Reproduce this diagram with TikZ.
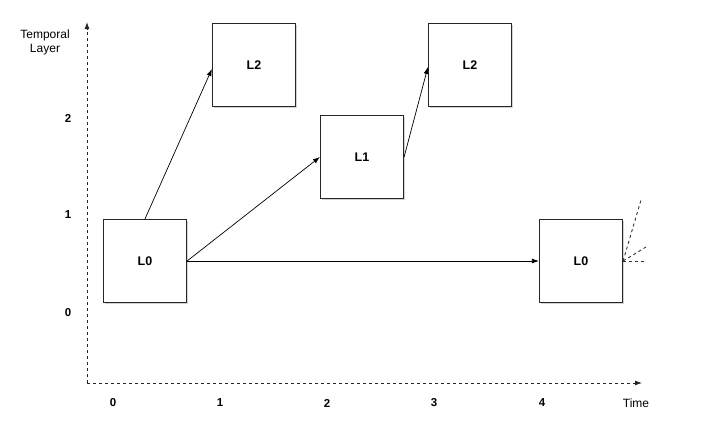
\documentclass[tikz,border=0pt]{standalone}
\usepackage{fontspec}
\setmainfont{Liberation Sans}
\usetikzlibrary{calc, arrows.meta, positioning, shadows}

\begin{document}
\begin{tikzpicture}[
    x=1pt, y=-1pt,
    frame/.style={rectangle, draw=black!85, fill=white, line width=1.2pt, minimum width=83pt, minimum height=83pt, font=\bfseries\fontsize{12.5}{14}\selectfont, drop shadow={shadow xshift=1pt, shadow yshift=-1.5pt, opacity=0.35}},
    axis/.style={-{Latex[length=7pt, width=5pt]}, dashed, line width=0.9pt, black!85},
    arrow/.style={-{Latex[length=7pt, width=5pt]}, line width=0.7pt, black},
    future/.style={dashed, line width=0.9pt, black!80},
    ticklabel/.style={font=\bfseries\fontsize{11.5}{13}\selectfont},
    axislabel/.style={font=\fontsize{12}{14}\selectfont}
]
    \useasboundingbox (0,0) rectangle (703,431);

    % Axes
    \coordinate (origin) at (87,383);
    \coordinate (ytop) at (87,22);
    \coordinate (xend) at (642,383);
    \draw[axis] (origin) -- (ytop);
    \draw[axis] (origin) -- (xend);

    % Axis labels
    \node[axislabel, align=center] (ylabel) at (45,42) {Temporal\\Layer};
    \node[ticklabel] (y0) at (68,313) {0};
    \node[ticklabel] (y1) at (68,215) {1};
    \node[ticklabel] (y2) at (68,118) {2};
    \foreach \t/\xpos in {0/113, 1/220, 2/327, 3/434, 4/542} {
        \node[ticklabel] (x\t) at (\xpos,403) {\t};
    }
    \node[axislabel] (xlabel) at (636,403) {Time};

    % Layer frames
    \node[frame] (l0a) at (145,261) {L0};
    \node[frame] (l2a) at (254,65) {L2};
    \node[frame] (l1) at (362,157) {L1};
    \node[frame] (l2b) at (470,65) {L2};
    \node[frame] (l0b) at (581,261) {L0};

    % Prediction arrows
    \draw[arrow] (l0a.north) -- ($(l2a.west)+(0,4)$);
    \draw[arrow] (l0a.east) -- (l1.west);
    \draw[arrow] (l0a.east) -- (l0b.west);
    \draw[arrow] (l1.east) -- ($(l2b.west)+(0,2)$);

    % Continuing references
    \coordinate (f1) at (641,200);
    \coordinate (f2) at (646,247);
    \coordinate (f3) at (646,261);
    \draw[future] (l0b.east) -- (f1);
    \draw[future] (l0b.east) -- (f2);
    \draw[future] (l0b.east) -- (f3);
\end{tikzpicture}
\end{document}
